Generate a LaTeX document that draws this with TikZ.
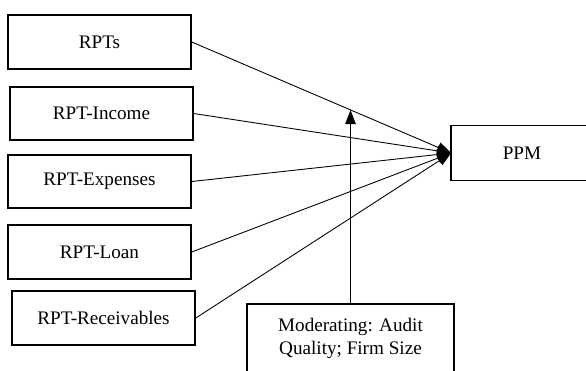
\documentclass[tikz,border=0pt]{standalone}
\usepackage{fontspec}
\setmainfont{Liberation Serif}
\usetikzlibrary{arrows.meta,calc}

\tikzset{
    var/.style={draw, line width=0.9pt, rectangle, minimum width=3.66cm, minimum height=1.07cm, inner sep=0pt, font=\fontsize{10.9}{13}\selectfont},
    link/.style={line width=0.5pt, -{Triangle[length=8pt,width=6pt]}}
}

\begin{document}
\begin{tikzpicture}[x=0.02cm, y=-0.02cm]
    \useasboundingbox (0,0) rectangle (586,370);
    \clip (0,0) rectangle (586,370);
    \node[var] (rpt) at (99.5,42) {RPTs};
    \node[var] (inc) at (101.5,113.5) {RPT-Income};
    \node[var] (exp) at (99.5,181.5) {RPT-Expenses};
    \node[var] (loan) at (99.5,252) {RPT-Loan};
    \node[var] (rec) at (103.5,318) {RPT-Receivables};
    \node[var, draw=none, minimum width=2.8cm] (ppm) at (522,153) {PPM};
    % box runs off the right edge
    \draw[line width=0.9pt] ([xshift=20]ppm.north east) -- (ppm.north west) -- (ppm.south west) -- ([xshift=20]ppm.south east);
    \node[var, minimum width=4.14cm, minimum height=1.36cm, align=center] (mod) at (350.5,338) {Moderating: Audit\\Quality; Firm Size};
    \path[link]
    (rpt.east) edge (ppm.west)
    (inc.east) edge (ppm.west)
    (exp.east) edge (ppm.west)
    (loan.east) edge (ppm.west)
    (rec.east) edge (ppm.west);
    % moderator points at the first path
    \coordinate (hit) at ($(rpt.east)!0.613!(ppm.west)$);
    \draw[link] (mod.north) -- (mod.north |- hit);
\end{tikzpicture}
\end{document}
